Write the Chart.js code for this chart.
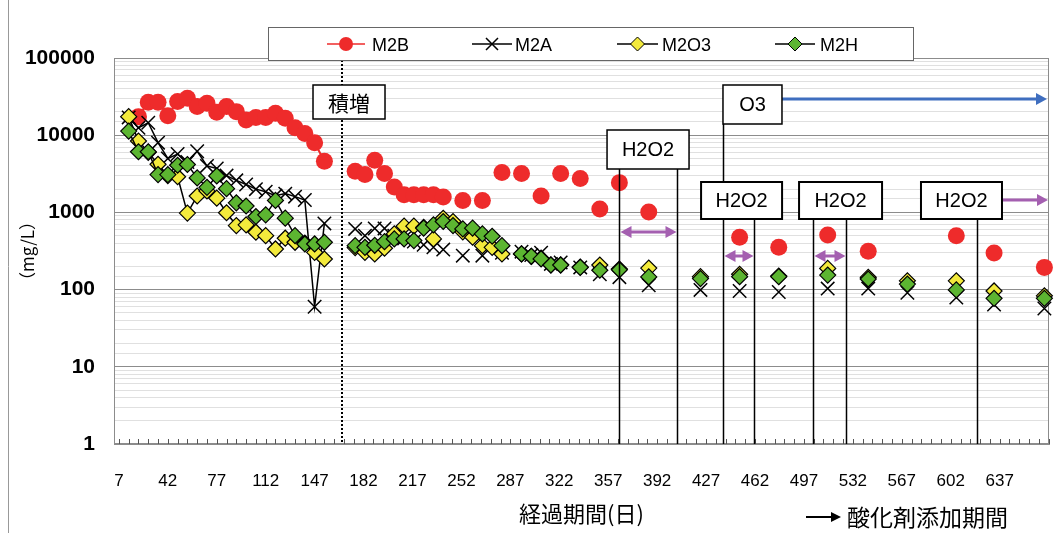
<!DOCTYPE html>
<html>
<head>
<meta charset="utf-8">
<script src="https://cdn.jsdelivr.net/npm/chart.js@4.4.0/dist/chart.umd.min.js"></script>
<style>
  html, body { margin: 0; padding: 0; background: #fff; }
  canvas { display: block; }
</style>
</head>
<body>
<canvas id="myChart" width="1064" height="533"></canvas>
<script>
// first period (lines drawn), weekly sampling
const days1 = [14, 21, 28, 35, 42, 49, 56, 63, 70, 77, 84, 91, 98, 105, 112, 119, 126, 133, 140, 147, 154];
const m2b1  = [null, 17400, 26700, 26700, 17900, 27300, 30100, 23500, 25900, 19800, 23500, 20200, 15700, 16900, 16900, 19200, 16600, 12500, 10500, 8000, 4600];
const m2a1  = [17000, 12500, 14500, 8000, 5000, 5700, 4500, 6200, 4000, 3700, 3000, 2600, 2300, 2000, 1850, 1650, 1750, 1600, 1450, 60, 720];
const m2o31 = [17400, 8400, 6000, 4200, 3000, 2900, 980, 1630, 1900, 1530, 990, 675, 690, 554, 500, 336, 463, 410, 400, 304, 249];
const m2h1  = [11300, 6100, 6100, 3090, 3090, 4080, 4170, 2800, 2110, 2970, 2030, 1330, 1210, 885, 930, 1430, 843, 500, 390, 390, 410];

// second period (markers only)
const days2 = [176, 183, 190, 197, 204, 211, 218, 225, 232, 239, 246, 253, 260, 267, 274, 281, 295, 302, 309, 316, 323, 337, 351, 365, 386, 423, 451, 479, 514, 543, 571, 606, 633, 669];
const m2b2  = [3410, 3090, 4750, 3180, 2135, 1690, 1690, 1690, 1690, 1580, null, 1430, null, 1430, null, 3280, 3180, null, 1630, null, 3180, 2740, 1110, 2430, 1010, null, 477, 353, 511, 313, null, 500, 298, 194];
const m2a2  = [611, 500, 620, 620, 500, 460, 420, 380, 353, 330, null, 275, null, 275, null, 300, 310, 280, 300, 215, 225, 194, 158, 145, 114, 99, 96, 93, 103, 103, 91, 79, 64, 57];
const m2o32 = [350, 304, 289, 343, 526, 664, 664, 640, 453, 840, 762, 560, 477, 371, 353, 289, 290, 270, 255, 210, 210, 196, 208, 185, 190, 147, 158, 150, 188, 144, 130, 130, 96, 83];
const m2h2  = [371, 353, 375, 418, 453, 453, 431, 625, 690, 762, 675, 611, 625, 526, 491, 371, 290, 270, 250, 208, 208, 194, 178, 181, 146, 139, 147, 147, 154, 137, 118, 99, 77, 77];

const xTicks = [7, 42, 77, 112, 147, 182, 217, 252, 287, 322, 357, 392, 427, 462, 497, 532, 567, 602, 637];

// oxidant dosing periods (days)
const stepDay = 166.6;
const h2o2Start = [364.7, 439.1, 503.5, 620.8];
const h2o2End = [406.2, 461.3, 527.1, null];
const o3Start = 439.1;

const RED = '#ee2b2b', YEL = '#f3ea3c', GRN = '#5cb531', PUR = '#a45fb0', BLU = '#3f6ebf';
const LAT = "'Liberation Sans', Arial, sans-serif";
const CJK = "'Noto Sans CJK JP', sans-serif";

function pts(days, vals) {
  return days.map((d, i) => ({ x: d, y: vals[i] })).filter(p => p.y != null);
}

const sRed = { borderColor: RED, backgroundColor: RED, borderWidth: 2, pointStyle: 'circle', pointRadius: 8.5, pointBackgroundColor: RED, pointBorderColor: RED, pointBorderWidth: 0, order: 3 };
const sX   = { borderColor: '#000', borderWidth: 1.5, pointStyle: 'crossRot', pointRadius: 9.5, pointBorderColor: '#000', pointBorderWidth: 1.5, order: 2 };
const sYel = { borderColor: '#000', borderWidth: 1.5, pointStyle: 'rectRot', pointRadius: 8, pointBackgroundColor: YEL, pointBorderColor: '#000', pointBorderWidth: 1.2, order: 1 };
const sGrn = { borderColor: '#000', borderWidth: 1.5, pointStyle: 'rectRot', pointRadius: 8, pointBackgroundColor: GRN, pointBorderColor: '#000', pointBorderWidth: 1.2, order: 0 };

function isPow10(v) {
  const l = Math.log10(v);
  return Math.abs(l - Math.round(l)) < 1e-9;
}

function arrowHead(ctx, x, y, dir, len, half) {
  ctx.beginPath();
  ctx.moveTo(x, y);
  ctx.lineTo(x - dir * len, y - half);
  ctx.lineTo(x - dir * len, y + half);
  ctx.closePath();
  ctx.fill();
}

function hArrow(ctx, x1, x2, y, color, both) {
  ctx.save();
  ctx.strokeStyle = color; ctx.fillStyle = color; ctx.lineWidth = 3;
  ctx.beginPath();
  ctx.moveTo(both ? x1 + 8 : x1, y);
  ctx.lineTo(x2 - 8, y);
  ctx.stroke();
  arrowHead(ctx, x2, y, 1, 11, 6);
  if (both) arrowHead(ctx, x1, y, -1, 11, 6);
  ctx.restore();
}

function textBox(ctx, cx, top, w, h, text, font, lw) {
  ctx.save();
  ctx.fillStyle = '#fff';
  ctx.fillRect(cx - w / 2, top, w, h);
  ctx.strokeStyle = '#000'; ctx.lineWidth = lw;
  ctx.strokeRect(cx - w / 2, top, w, h);
  ctx.fillStyle = '#000'; ctx.font = font;
  ctx.textAlign = 'center'; ctx.textBaseline = 'middle';
  ctx.fillText(text, cx, top + h / 2 + 1);
  ctx.restore();
}

const annot = {
  id: 'annot',
  beforeDatasetsDraw(chart) {
    const { ctx, chartArea: a, scales: { x } } = chart;
    ctx.save();
    // outer frame line at left
    ctx.strokeStyle = '#999'; ctx.lineWidth = 1;
    ctx.beginPath(); ctx.moveTo(8.5, 0); ctx.lineTo(8.5, 533); ctx.stroke();
    // plot frame
    ctx.strokeStyle = '#8c8c8c';
    ctx.strokeRect(a.left + 0.5, a.top + 0.5, a.right - a.left - 1, a.bottom - a.top - 1);
    // small ticks along bottom
    ctx.strokeStyle = '#555';
    for (let d = 7; d < x.max; d += 7) {
      const px = Math.round(x.getPixelForValue(d)) + 0.5;
      ctx.beginPath(); ctx.moveTo(px, a.bottom); ctx.lineTo(px, a.bottom - 5); ctx.stroke();
    }
    // dotted line: 積増
    ctx.strokeStyle = '#000'; ctx.lineWidth = 2; ctx.setLineDash([2, 2]);
    const sx = Math.round(x.getPixelForValue(stepDay));
    ctx.beginPath(); ctx.moveTo(sx, a.top + 2); ctx.lineTo(sx, a.bottom); ctx.stroke();
    ctx.restore();
  },
  afterDatasetsDraw(chart) {
    const { ctx, chartArea: a, scales: { x } } = chart;
    const px = d => Math.round(x.getPixelForValue(d)) + 0.5;
    ctx.save();
    ctx.strokeStyle = '#000'; ctx.lineWidth = 1.5;
    const vline = (d, y1) => { ctx.beginPath(); ctx.moveTo(px(d), y1); ctx.lineTo(px(d), a.bottom); ctx.stroke(); };
    vline(h2o2Start[0], 169); vline(h2o2End[0], 169);
    vline(o3Start, 124);
    vline(h2o2End[1], 219);
    vline(h2o2Start[2], 219); vline(h2o2End[2], 219);
    vline(h2o2Start[3], 219);
    ctx.restore();

    // period arrows
    hArrow(ctx, px(h2o2Start[0]) + 1, px(h2o2End[0]) - 1, 232, PUR, true);
    hArrow(ctx, px(h2o2Start[1]) + 1, px(h2o2End[1]) - 1, 256, PUR, true);
    hArrow(ctx, px(h2o2Start[2]) + 1, px(h2o2End[2]) - 1, 256, PUR, true);
    hArrow(ctx, 1002, a.right - 1, 200, PUR, false);
    hArrow(ctx, 782, a.right - 2, 99, BLU, false);

    // labels
    const bf = '20px ' + LAT;
    textBox(ctx, x.getPixelForValue(171.6), 85, 72, 34, '積増', '21px ' + CJK, 1.5);
    textBox(ctx, x.getPixelForValue(385.5), 130, 82, 39, 'H2O2', bf, 1.5);
    textBox(ctx, x.getPixelForValue(460.2), 85, 59, 39, 'O3', bf, 1.5);
    textBox(ctx, x.getPixelForValue(452.4), 182, 81, 37, 'H2O2', bf, 2);
    textBox(ctx, x.getPixelForValue(523.2), 182, 83, 37, 'H2O2', bf, 2);
    textBox(ctx, x.getPixelForValue(609.7), 182, 81, 37, 'H2O2', bf, 2);

    // legend
    ctx.save();
    ctx.fillStyle = '#fff';
    ctx.fillRect(268, 27, 645, 33);
    ctx.strokeStyle = '#666'; ctx.lineWidth = 1;
    ctx.strokeRect(268.5, 27.5, 645, 33);
    const items = [
      { l: 327, r: 365, t: 372, name: 'M2B', kind: 'c' },
      { l: 472, r: 512, t: 515, name: 'M2A', kind: 'x' },
      { l: 617, r: 658, t: 662, name: 'M2O3', kind: 'y' },
      { l: 775, r: 815, t: 820, name: 'M2H', kind: 'g' }
    ];
    const ly = 44;
    items.forEach(it => {
      const m = (it.l + it.r) / 2;
      ctx.strokeStyle = it.kind === 'c' ? RED : '#000';
      ctx.lineWidth = 1.5;
      ctx.beginPath(); ctx.moveTo(it.l, ly); ctx.lineTo(it.r, ly); ctx.stroke();
      if (it.kind === 'c') {
        ctx.fillStyle = RED;
        ctx.beginPath(); ctx.arc(m, ly, 7, 0, Math.PI * 2); ctx.fill();
      } else if (it.kind === 'x') {
        ctx.beginPath();
        ctx.moveTo(m - 6, ly - 6); ctx.lineTo(m + 6, ly + 6);
        ctx.moveTo(m + 6, ly - 6); ctx.lineTo(m - 6, ly + 6);
        ctx.stroke();
      } else {
        ctx.fillStyle = it.kind === 'y' ? YEL : GRN;
        ctx.beginPath();
        ctx.moveTo(m, ly - 7); ctx.lineTo(m + 7, ly); ctx.lineTo(m, ly + 7); ctx.lineTo(m - 7, ly);
        ctx.closePath(); ctx.fill();
        ctx.lineWidth = 1; ctx.stroke();
      }
      ctx.fillStyle = '#000'; ctx.font = '18px ' + LAT;
      ctx.textAlign = 'left'; ctx.textBaseline = 'middle';
      ctx.fillText(it.name, it.t, ly + 2);
    });
    ctx.restore();

    // footnote
    ctx.save();
    ctx.strokeStyle = '#000'; ctx.fillStyle = '#000'; ctx.lineWidth = 2;
    ctx.beginPath(); ctx.moveTo(806, 517); ctx.lineTo(834, 517); ctx.stroke();
    arrowHead(ctx, 841, 517, 1, 10, 5);
    ctx.font = '23px ' + CJK; ctx.textAlign = 'left'; ctx.textBaseline = 'middle';
    ctx.fillText('酸化剤添加期間', 847, 517);
    ctx.restore();
  }
};

const datasets = [
  Object.assign({ label: 'M2B', data: pts(days1, m2b1) }, sRed),
  Object.assign({ label: 'M2A', data: pts(days1, m2a1) }, sX),
  Object.assign({ label: 'M2O3', data: pts(days1, m2o31) }, sYel),
  Object.assign({ label: 'M2H', data: pts(days1, m2h1) }, sGrn),
  Object.assign({ label: 'M2B', data: pts(days2, m2b2), showLine: false }, sRed),
  Object.assign({ label: 'M2A', data: pts(days2, m2a2), showLine: false }, sX),
  Object.assign({ label: 'M2O3', data: pts(days2, m2o32), showLine: false }, sYel),
  Object.assign({ label: 'M2H', data: pts(days2, m2h2), showLine: false }, sGrn)
];
datasets.forEach(ds => { ds.clip = false; ds.tension = 0; });

new Chart(document.getElementById('myChart'), {
  type: 'line',
  data: { datasets: datasets },
  plugins: [annot],
  options: {
    responsive: false,
    animation: false,
    devicePixelRatio: 1,
    layout: { padding: { top: 58, right: 15, left: 0, bottom: 0 } },
    plugins: { legend: { display: false }, tooltip: { enabled: false } },
    scales: {
      x: {
        type: 'linear',
        min: 3.5,
        max: 672.3,
        afterBuildTicks: s => { s.ticks = xTicks.map(v => ({ value: v })); },
        afterFit: s => { s.height = 89; },
        grid: { display: false, drawTicks: false },
        border: { display: true, color: '#8c8c8c' },
        ticks: { autoSkip: false, maxRotation: 0, padding: 27, color: '#000', font: { family: LAT, size: 17 } },
        title: { display: true, text: '経過期間(日)', color: '#000', font: { family: CJK, size: 22 }, padding: { top: 0, bottom: 6 } }
      },
      y: {
        type: 'logarithmic',
        min: 1,
        max: 100000,
        afterFit: s => { s.width = 114; },
        grid: {
          drawTicks: false,
          color: c => isPow10(c.tick.value) ? '#8c8c8c' : '#e0e0e0',
          lineWidth: 1
        },
        border: { display: true, color: '#8c8c8c' },
        ticks: {
          autoSkip: false,
          padding: 19,
          color: '#000',
          font: { family: LAT, size: 21, weight: 'bold' },
          callback: v => isPow10(v) ? String(v) : ''
        },
        title: { display: true, text: '（mg/L）', color: '#000', font: { family: CJK, size: 17 }, padding: { top: 17, bottom: 0 } }
      }
    }
  }
});
</script>
</body>
</html>
